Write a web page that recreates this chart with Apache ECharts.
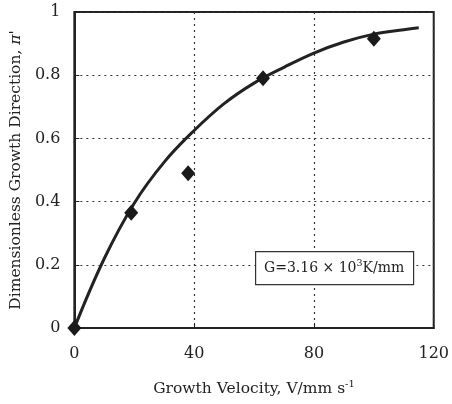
<!DOCTYPE html>
<html>
<head>
<meta charset="utf-8">
<script src="https://cdn.jsdelivr.net/npm/echarts@6/dist/echarts.min.js"></script>
<style>
  html, body { margin: 0; padding: 0; background: #fff; }
  #chart { width: 452px; height: 404px; }
</style>
</head>
<body>
<div id="chart"></div>
<script>
  // measured points (diamonds)
  var pointsX = [0, 19, 38, 63, 100];
  var pointsY = [0, 0.365, 0.49, 0.79, 0.915];

  // fitted curve
  var curveX = [0, 10, 20, 30, 40, 50, 60, 70, 80, 90, 100, 110, 115];
  var curveY = [0, 0.22, 0.395, 0.525, 0.625, 0.71, 0.775, 0.825, 0.87, 0.905, 0.93, 0.944, 0.95];

  var xTicks = [0, 40, 80, 120];
  var yTicks = [0, 0.2, 0.4, 0.6, 0.8, 1];
  var noteText = 'G=3.16 × 10{s|3}K/mm';

  var fontFam = '"DejaVu Serif", "Liberation Serif", serif';

  var chart = echarts.init(document.getElementById('chart'));

  var scatterData = pointsX.map(function (x, i) { return [x, pointsY[i]]; });
  var curveData = curveX.map(function (x, i) { return [x, curveY[i]]; });

  var option = {
    animation: false,
    grid: {
      left: 73, right: 16, top: 12, bottom: 76,
      show: true, borderColor: '#222', borderWidth: 2
    },
    xAxis: {
      type: 'value',
      min: xTicks[0], max: xTicks[xTicks.length - 1], interval: 40,
      name: 'Growth Velocity, V/mm s{sup|-1}',
      nameLocation: 'middle',
      nameGap: 51,
      nameTextStyle: {
        color: '#222', fontFamily: fontFam, fontSize: 15.5,
        rich: { sup: { fontSize: 10, verticalAlign: 'top', padding: [0, 0, 10, 0], fontFamily: fontFam, color: '#222' } }
      },
      axisLine: { show: true, lineStyle: { color: '#222', width: 2 } },
      axisTick: { show: true, inside: true, length: 5, lineStyle: { color: '#222' } },
      axisLabel: { color: '#222', fontFamily: fontFam, fontSize: 16, margin: 18 },
      splitLine: { show: true, lineStyle: { color: '#333', type: [2, 4], width: 1.2 } }
    },
    yAxis: {
      type: 'value',
      min: 0, max: 1, interval: 0.2,
      name: "Dimensionless Growth Direction, {i|π}'",
      nameLocation: 'middle',
      nameGap: 49,
      nameTextStyle: {
        color: '#222', fontFamily: fontFam, fontSize: 15.5,
        rich: { i: { fontStyle: 'italic', fontSize: 15.5, fontFamily: fontFam, color: '#222' } }
      },
      axisLine: { show: true, lineStyle: { color: '#222', width: 2 } },
      axisTick: { show: true, inside: true, length: 5, lineStyle: { color: '#222' } },
      axisLabel: {
        color: '#222', fontFamily: fontFam, fontSize: 16, margin: 14,
        formatter: function (v) { return yTicks.indexOf(+v.toFixed(1)) >= 0 ? String(+v.toFixed(1)) : ''; }
      },
      splitLine: { show: true, lineStyle: { color: '#333', type: [2, 4], width: 1.2 } }
    },
    series: [
      {
        type: 'line',
        data: curveData,
        smooth: 0.4,
        showSymbol: false,
        lineStyle: { color: '#222', width: 3 },
        z: 3
      },
      {
        type: 'scatter',
        data: scatterData,
        symbol: 'diamond',
        symbolSize: [14, 16],
        itemStyle: { color: '#1a1a1a', opacity: 1 },
        z: 4
      }
    ],
    graphic: [
      {
        type: 'rect',
        left: 255, top: 251,
        shape: { width: 158, height: 33 },
        style: { fill: '#fff', stroke: '#333', lineWidth: 1.2 },
        z: 10
      },
      {
        type: 'text',
        left: 264, top: 259,
        style: {
          text: noteText,
          fill: '#222',
          font: '14px ' + fontFam,
          rich: { s: { fontSize: 9.5, verticalAlign: 'top', padding: [0, 0, 8, 0], fill: '#222', fontFamily: fontFam } }
        },
        z: 11
      }
    ]
  };

  chart.setOption(option);
</script>
</body>
</html>
